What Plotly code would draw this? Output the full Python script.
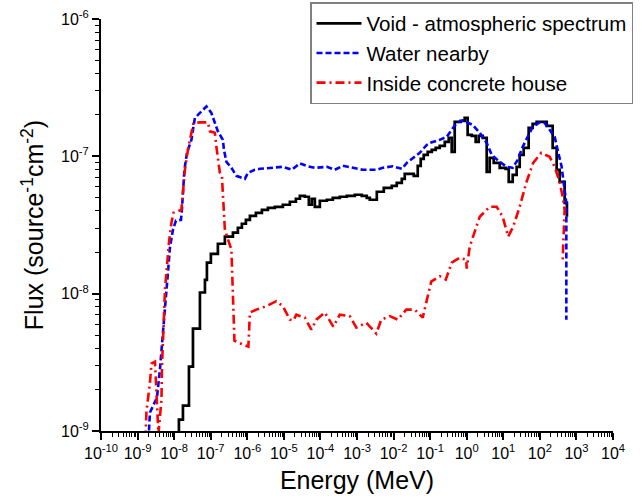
import plotly.graph_objects as go

# ---------------- data ----------------
void_E = [1.35e-8, 1.35e-8, 1.74e-8, 2.54e-8, 3.27e-8, 5.07e-8, 6.95e-8, 7.87e-8, 1.01e-7, 1.57e-7,
          2.44e-7, 4.05e-7, 5.53e-7, 7.11e-7, 9.16e-7, 1.18e-6, 1.72e-6, 2.51e-6, 3.66e-6, 5.68e-6,
          9.4e-6, 1.46e-5, 2.13e-5, 2.74e-5, 3.75e-5, 4.82e-5, 5.82e-5, 7.03e-5, 9.64e-5, 1.50e-4,
          2.18e-4, 3.39e-4, 5.26e-4, 8.71e-4, 1.35e-3, 1.85e-3, 2.24e-3, 3.48e-3, 5.4e-3, 8.93e-3,
          1.22e-2, 1.68e-2, 2.02e-2, 2.77e-2, 3.57e-2, 4.58e-2, 5.53e-2, 6.68e-2, 8.59e-2, 0.111,
          0.142, 0.183, 0.251, 0.322, 0.389, 0.47, 0.686, 0.881, 1.06, 1.37,
          1.76, 2.13, 2.74, 3.52, 4.25, 5.47, 7.98, 11.6, 14.1, 18.1,
          23.2, 28.1, 36.1, 49.4, 63.5, 81.8, 119, 154, 224, 288,
          348, 476, 550]
void_F = [8.0e-10, 1.21e-9, 1.53e-9, 2.94e-9, 5.57e-9, 1.02e-8, 1.26e-8, 1.68e-8, 1.95e-8, 2.31e-8,
          2.60e-8, 2.78e-8, 3.02e-8, 3.23e-8, 3.45e-8, 3.69e-8, 3.88e-8, 4.08e-8, 4.22e-8, 4.29e-8,
          4.44e-8, 4.67e-8, 4.91e-8, 5.16e-8, 5.08e-8, 4.44e-8, 4.91e-8, 4.29e-8, 4.75e-8, 4.83e-8,
          4.99e-8, 5.08e-8, 5.16e-8, 5.25e-8, 5.16e-8, 4.99e-8, 4.83e-8, 5.52e-8, 5.90e-8, 6.10e-8,
          6.41e-8, 6.86e-8, 7.46e-8, 7.46e-8, 7.21e-8, 8.53e-8, 9.59e-8, 1.025e-7, 1.078e-7, 1.115e-7,
          1.153e-7, 1.192e-7, 1.274e-7, 1.363e-7, 1.078e-7, 1.782e-7, 1.812e-7, 1.905e-7, 1.433e-7, 1.41e-7,
          1.274e-7, 1.41e-7, 1.363e-7, 7.71e-8, 9.75e-8, 8.97e-8, 8.25e-8, 8.11e-8, 6.52e-8, 7.34e-8,
          8.39e-8, 1.025e-7, 1.153e-7, 1.611e-7, 1.723e-7, 1.782e-7, 1.782e-7, 1.667e-7, 1.153e-7, 7.98e-8,
          6.52e-8, 4.59e-8, 3.63e-8]

water_E = [1.99e-9, 2.18e-9, 3.39e-9, 4.09e-9, 4.94e-9, 5.61e-9, 6.35e-9, 6.98e-9, 7.67e-9, 9.27e-9,
           1.12e-8, 1.54e-8, 1.63e-8, 1.80e-8, 1.91e-8, 2.24e-8, 2.97e-8, 3.37e-8, 3.70e-8, 5.07e-8,
           7.64e-8, 1.04e-7, 1.30e-7, 1.57e-7, 2.15e-7, 2.30e-7, 2.69e-7, 3.68e-7, 5.04e-7, 8.59e-7,
           1.04e-6, 1.61e-6, 2.21e-6, 4.14e-6, 9.4e-6, 1.66e-5, 2.74e-5, 4.53e-5, 7.03e-5, 1.50e-4,
           2.47e-4, 4.09e-4, 7.67e-4, 1.44e-3, 3.48e-3, 5.07e-3, 9.51e-3, 1.68e-2, 2.30e-2, 3.35e-2,
           5.2e-2, 8.07e-2, 9.75e-2, 0.183, 0.284, 0.533, 0.778, 1.46, 2.27, 3.52,
           4.82, 7.98, 12.4, 18.1, 24.7, 33.9, 46.5, 63.5, 98.9, 135,
           185, 254, 306, 394, 447, 530, 530]
water_F = [8.67e-10, 1.363e-9, 1.753e-9, 2.8e-9, 5.2e-9, 8.32e-9, 1.202e-8, 1.572e-8, 2.16e-8, 2.92e-8,
           3.4e-8, 3.45e-8, 4.08e-8, 5.71e-8, 7.98e-8, 1.06e-7, 1.318e-7, 1.639e-7, 1.905e-7, 2.072e-7,
           2.31e-7, 2.072e-7, 1.752e-7, 1.52e-7, 1.318e-7, 1.115e-7, 9.12e-8, 8.25e-8, 7.21e-8, 6.86e-8,
           7.59e-8, 7.98e-8, 8.11e-8, 8.25e-8, 8.39e-8, 7.98e-8, 8.89e-8, 8.46e-8, 8.25e-8, 8.39e-8,
           7.98e-8, 8.53e-8, 8.25e-8, 7.98e-8, 7.98e-8, 8.25e-8, 8.46e-8, 8.11e-8, 8.97e-8, 9.75e-8,
           1.06e-7, 1.212e-7, 1.253e-7, 1.318e-7, 1.387e-7, 1.752e-7, 1.827e-7, 1.694e-7, 1.483e-7, 1.253e-7,
           1.025e-7, 9.12e-8, 8.39e-8, 8.25e-8, 9.43e-8, 1.173e-7, 1.387e-7, 1.639e-7, 1.767e-7, 1.752e-7,
           1.559e-7, 1.387e-7, 1.115e-7, 8.39e-8, 6.41e-8, 4.59e-8, 6.47e-9]

house_E = [1.64e-9, 1.75e-9, 2.18e-9, 2.40e-9, 2.99e-9, 3.28e-9, 3.72e-9, 4.5e-9, 4.65e-9, 5.1e-9,
           5.61e-9, 6.24e-9, 7.21e-9, 8.43e-9, 9.57e-9, 1.58e-8, 1.80e-8, 1.97e-8, 2.38e-8, 2.97e-8,
           3.37e-8, 5.07e-8, 8.38e-8, 9.5e-8, 1.30e-7, 1.43e-7, 1.78e-7, 2.02e-7, 2.22e-7, 2.44e-7,
           3.68e-7, 4.05e-7, 4.45e-7, 4.45e-7, 7.59e-7, 1.07e-6, 1.18e-6, 1.77e-6, 3.33e-6, 6.24e-6,
           9.4e-6, 1.46e-5, 1.82e-5, 2.20e-5, 3.75e-5, 5.64e-5, 7.73e-5, 1.32e-4, 2.25e-4, 3.39e-4,
           6.35e-4, 9.57e-4, 1.80e-3, 3.37e-3, 4.61e-3, 7.87e-3, 1.30e-2, 2.22e-2, 3.79e-2, 6.28e-2,
           7.82e-2, 0.107, 0.183, 0.267, 0.389, 0.644, 0.968, 1.0, 1.21, 1.51,
           2.27, 4.25, 6.61, 9.64, 13.6, 18.6, 28.1, 42.3, 65.6, 109,
           185, 254, 348, 434, 476, 434, 420]
house_F = [8.67e-10, 1.387e-9, 2.254e-9, 3.1e-9, 3.2e-9, 1.842e-9, 9.5e-10, 1.694e-9, 2.944e-9, 5.47e-9,
           1.069e-8, 1.495e-8, 2.35e-8, 3.28e-8, 3.88e-8, 4.08e-8, 5.71e-8, 7.98e-8, 1.115e-7, 1.483e-7,
           1.752e-7, 1.767e-7, 1.767e-7, 1.52e-7, 1.483e-7, 1.173e-7, 7.59e-8, 7.21e-8, 4.83e-8, 2.92e-8,
           2.089e-8, 1.069e-8, 5.75e-9, 4.55e-9, 4.26e-9, 4.12e-9, 7.28e-9, 7.65e-9, 8.11e-9, 8.82e-9,
           8.11e-9, 6.47e-9, 6.37e-9, 7.03e-9, 6.69e-9, 5.47e-9, 6.47e-9, 7.28e-9, 5.75e-9, 7.03e-9,
           6.86e-9, 5.66e-9, 6.15e-9, 5.12e-9, 6.47e-9, 6.86e-9, 6.47e-9, 7.65e-9, 7.65e-9, 6.69e-9,
           8.61e-9, 1.223e-8, 1.341e-8, 1.264e-8, 1.68e-8, 1.828e-8, 1.767e-8, 1.52e-8, 2.198e-8, 2.6e-8,
           3.63e-8, 4.29e-8, 4.29e-8, 3.63e-8, 2.6e-8, 3.07e-8, 4.29e-8, 6.41e-8, 8.97e-8, 1.06e-7,
           9.92e-8, 8.39e-8, 6.52e-8, 4.83e-8, 4.08e-8, 2.198e-8, 1.68e-8]

series_names = ["Void - atmospheric spectrum", "Water nearby", "Inside concrete house"]
x_exponents = list(range(-10, 5))
y_exponents = [-9, -8, -7, -6]

# ---------------- figure ----------------
FONT = "Liberation Sans, Arial, sans-serif"

fig = go.Figure()
fig.add_trace(go.Scatter(x=void_E, y=void_F, mode="lines", name=series_names[0],
                         line=dict(color="black", width=2.7, shape="hv")))
fig.add_trace(go.Scatter(x=water_E, y=water_F, mode="lines", name=series_names[1],
                         line=dict(color="#0000FF", width=2.6, dash="6px,3px")))
fig.add_trace(go.Scatter(x=house_E, y=house_F, mode="lines", name=series_names[2],
                         line=dict(color="#FF0000", width=2.6, dash="9px,4px,2px,4px")))


def minor_vals(exps):
    return [k * 10.0 ** e for e in exps[:-1] for k in range(2, 10)]


axis_common = dict(type="log", showgrid=False, zeroline=False, showline=True,
                   linecolor="black", linewidth=2, ticks="outside", ticklen=7,
                   tickwidth=1.5, tickcolor="black", tickfont=dict(size=16, color="black"),
                   mirror=False)

fig.update_xaxes(**axis_common, range=[-10, 4], tickmode="array",
                 tickvals=[10.0 ** e for e in x_exponents],
                 ticktext=[f"10<sup>{e}</sup>" for e in x_exponents],
                 minor=dict(ticks="outside", ticklen=4, tickwidth=1, tickcolor="black",
                            tickmode="array", tickvals=minor_vals(x_exponents), showgrid=False),
                 title=dict(text="Energy (MeV)", font=dict(size=25, color="black"), standoff=10))
fig.update_yaxes(**axis_common, range=[-9, -6], tickmode="array",
                 tickvals=[10.0 ** e for e in y_exponents],
                 ticktext=[f"10<sup>{e}</sup>" for e in y_exponents],
                 minor=dict(ticks="outside", ticklen=4, tickwidth=1, tickcolor="black",
                            tickmode="array", tickvals=minor_vals(y_exponents), showgrid=False),
                 title=dict(text="Flux (source<sup>-1</sup>cm<sup>-2</sup>)",
                            font=dict(size=25, color="black"), standoff=10))

fig.update_layout(
    width=642, height=502,
    margin=dict(l=101, r=29, t=19, b=71, autoexpand=False),
    plot_bgcolor="white", paper_bgcolor="white",
    font=dict(family=FONT, color="black"),
    showlegend=True,
    legend=dict(x=(310 - 101) / 512, y=1 + 17 / 412,
                xanchor="left", yanchor="top",
                bgcolor="white", bordercolor="#808080", borderwidth=1.5,
                font=dict(size=20.5, color="black"), itemwidth=45,
                tracegroupgap=0),
)

fig.write_html("out.html")
